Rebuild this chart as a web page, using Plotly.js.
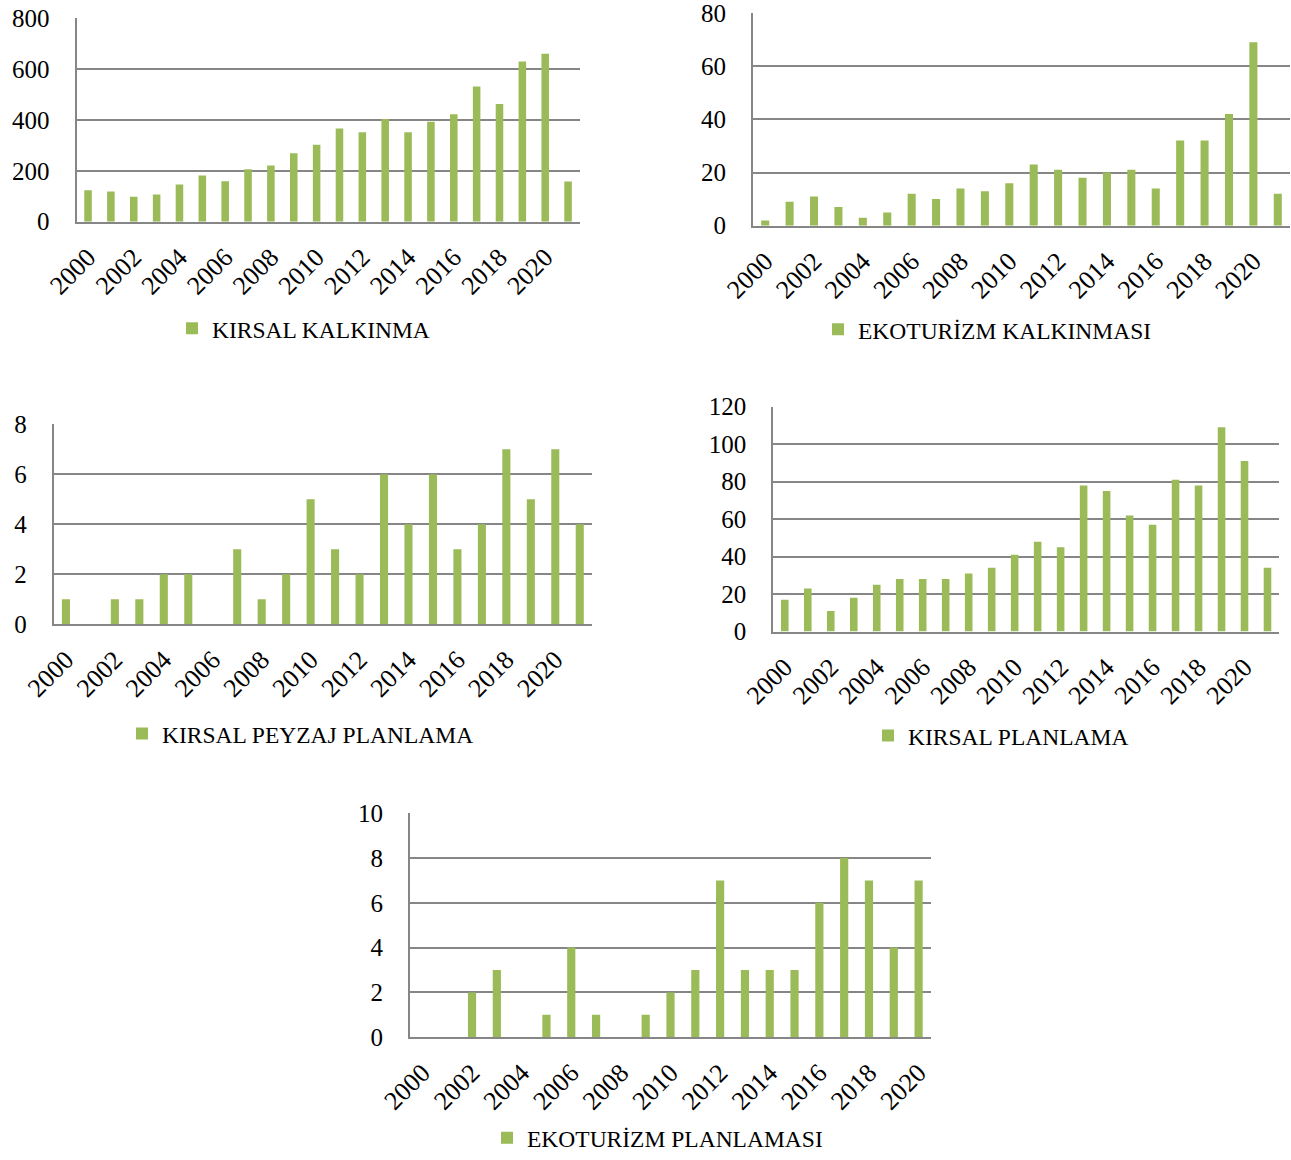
<!DOCTYPE html>
<html>
<head>
<meta charset="utf-8">
<script src="https://cdn.plot.ly/plotly-3.0.1.min.js"></script>
<style>
html, body { margin: 0; padding: 0; background: #fff; }
#chart { width: 1291px; height: 1160px; }
</style>
</head>
<body>
<div id="chart"></div>
<script>
// ---- Data ----
const years = ["2000","2001","2002","2003","2004","2005","2006","2007","2008","2009","2010",
               "2011","2012","2013","2014","2015","2016","2017","2018","2019","2020","2021"];
const years5 = ["2000","2001","2002","2003","2004","2005","2006","2007","2008","2009","2010",
                "2011","2012","2013","2014","2015","2016","2017","2018","2019","2020"];
const tickYears = ["2000","2002","2004","2006","2008","2010","2012","2014","2016","2018","2020"];

const kirsalKalkinma = [124,119,98,107,146,181,159,206,221,269,302,366,351,403,351,392,422,531,462,629,659,158];
const ekoturizmKalkinmasi = [2,9,11,7,3,5,12,10,14,13,16,23,21,18,20,21,14,32,32,42,69,12];
const kirsalPeyzajPlanlama = [1,0,1,1,2,2,0,3,1,2,5,3,2,6,4,6,3,4,7,5,7,4];
const kirsalPlanlama = [17,23,11,18,25,28,28,28,31,34,41,48,45,78,75,62,57,81,78,109,91,34];
const ekoturizmPlanlamasi = [0,0,2,3,0,1,4,1,0,1,2,3,7,3,3,3,6,8,7,4,7];

const names = ["KIRSAL KALKINMA","EKOTURİZM KALKINMASI","KIRSAL PEYZAJ PLANLAMA","KIRSAL PLANLAMA","EKOTURİZM PLANLAMASI"];

// ---- Layout helpers ----
const W = 1291, H = 1160;
const GREEN = "#9BBB59";
const GRID = "#868686";
const FONT = "Liberation Serif";

function px2x(a, b) { return [a / W, b / W]; }
function px2y(top, bottom) { return [1 - bottom / H, 1 - top / H]; }

const panels = [
  { x: years,  y: kirsalKalkinma,       name: names[0], xd: px2x(76.6, 579.5), yd: px2y(18, 222.7),  max: 800, dt: 200, lx: 172, ly: 330 },
  { x: years,  y: ekoturizmKalkinmasi,  name: names[1], xd: px2x(753, 1290),   yd: px2y(13, 226.7),  max: 80,  dt: 20,  lx: 818, ly: 331 },
  { x: years,  y: kirsalPeyzajPlanlama, name: names[2], xd: px2x(53.7, 592),   yd: px2y(426, 627),   max: 8,   dt: 2,   lx: 122, ly: 737 },
  { x: years,  y: kirsalPlanlama,       name: names[3], xd: px2x(773.3, 1279), yd: px2y(408.5, 634.3), max: 120, dt: 20, lx: 868, ly: 739 },
  { x: years5, y: ekoturizmPlanlamasi,  name: names[4], xd: px2x(410, 931),    yd: px2y(816.7, 1041.7), max: 10, dt: 2,  lx: 487, ly: 1143 }
];

const data = [];
const layout = {
  width: W, height: H,
  margin: { l: 0, r: 0, t: 0, b: 0 },
  paper_bgcolor: "#fff",
  plot_bgcolor: "rgba(0,0,0,0)",
  bargap: 0.67,
  font: { family: FONT, size: 25, color: "#000" },
  showlegend: true
};

panels.forEach((p, i) => {
  const n = i === 0 ? "" : String(i + 1);
  const legendKey = "legend" + n;
  data.push({
    type: "bar",
    x: p.x, y: p.y, name: p.name,
    xaxis: "x" + n, yaxis: "y" + n,
    legend: legendKey,
    marker: { color: GREEN, line: { width: 0 } },
    hoverinfo: "skip"
  });
  layout["xaxis" + n] = {
    domain: p.xd,
    anchor: "y" + n,
    type: "category",
    categoryorder: "array",
    categoryarray: p.x,
    tickmode: "array",
    tickvals: tickYears,
    ticktext: tickYears,
    tickangle: -45,
    ticks: "",
    ticklabelstandoff: 8,
    ticklabeloverflow: "allow",
    showgrid: false,
    showline: true,
    linecolor: GRID,
    linewidth: 2,
    zeroline: false,
    fixedrange: true,
    tickfont: { family: FONT, size: 26, color: "#000" }
  };
  layout["yaxis" + n] = {
    domain: p.yd,
    anchor: "x" + n,
    range: [0, p.max],
    tickmode: "linear",
    tick0: 0,
    dtick: p.dt,
    ticks: "",
    ticklabelstandoff: 20,
    ticklabeloverflow: "allow",
    showgrid: true,
    gridcolor: GRID,
    gridwidth: 2,
    showline: true,
    linecolor: GRID,
    linewidth: 2,
    zeroline: false,
    fixedrange: true,
    tickfont: { family: FONT, size: 25, color: "#000" }
  };
  layout[legendKey] = {
    x: p.lx / W,
    xanchor: "left",
    y: 1 - p.ly / H,
    yanchor: "middle",
    orientation: "h",
    bgcolor: "rgba(0,0,0,0)",
    borderwidth: 0,
    font: { family: FONT, size: 23.5, color: "#000" }
  };
});

Plotly.newPlot("chart", data, layout, { staticPlot: true, displayModeBar: false });
</script>
</body>
</html>
